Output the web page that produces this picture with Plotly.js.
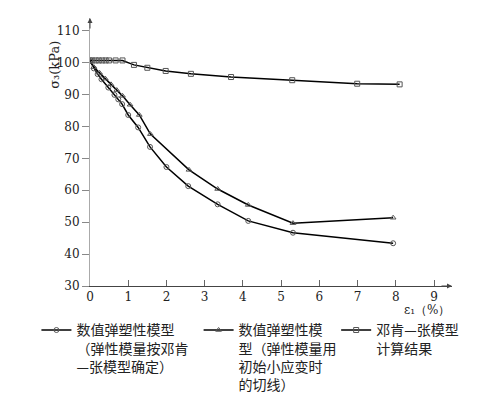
<!DOCTYPE html>
<html><head><meta charset="utf-8">
<script src="https://cdn.plot.ly/plotly-3.0.1.min.js"></script>
<style>html,body{margin:0;padding:0;background:#fff}#c{width:497px;height:397px}</style>
</head><body><div id="c"></div>
<script>
// Series 1: 数值弹塑性模型（弹性模量按邓肯—张模型确定）
const x1 = [0, 0.1, 0.2, 0.3, 0.48, 0.64, 0.74, 0.84, 1.0, 1.26, 1.57, 2.0, 2.57, 3.34, 4.14, 5.31, 7.93];
const y1 = [100.5, 98.2, 96.4, 94.8, 92.2, 89.9, 88.5, 87.0, 83.6, 79.7, 73.6, 67.3, 61.3, 55.6, 50.4, 46.7, 43.4];
// Series 2: 数值弹塑性模型（弹性模量用初始小应变时的切线）
const x2 = [0, 0.1, 0.25, 0.4, 0.55, 0.7, 0.85, 1.05, 1.29, 1.58, 2.59, 3.34, 4.14, 5.31, 7.93];
const y2 = [100.5, 98.6, 96.8, 95.0, 93.2, 91.4, 89.6, 86.8, 83.6, 77.6, 66.4, 60.4, 55.4, 49.7, 51.4];
// Series 3: 邓肯—张模型计算结果
const x3 = [0, 0.06, 0.15, 0.23, 0.32, 0.41, 0.5, 0.67, 0.85, 1.15, 1.5, 1.98, 2.64, 3.69, 5.29, 6.99, 8.1];
const y3 = [100.7, 100.7, 100.7, 100.7, 100.7, 100.7, 100.7, 100.7, 100.7, 99.3, 98.4, 97.4, 96.5, 95.5, 94.5, 93.4, 93.2];
const names = [
  "数值弹塑性模型<br>（弹性模量按邓肯<br>—张模型确定）",
  "数值弹塑性模<br>型（弹性模量用<br>初始小应变时<br>的切线）",
  "邓肯—张模型<br>计算结果"
];
const xTicks = [0,1,2,3,4,5,6,7,8,9];
const yTicks = [30,40,50,60,70,80,90,100,110];

const line = {color:'#000', width:1.5};
const traces = [
  {x:x1, y:y1, name:names[0], mode:'lines+markers', line:line, legend:'legend',
   marker:{symbol:'circle-open', size:5, color:'#555', line:{width:1}}},
  {x:x2, y:y2, name:names[1], mode:'lines+markers', line:line, legend:'legend2',
   marker:{symbol:'triangle-up-open', size:5, color:'#555', line:{width:1}}},
  {x:x3, y:y3, name:names[2], mode:'lines+markers', line:line, legend:'legend3',
   marker:{symbol:'square-open', size:5, color:'#555', line:{width:1}}}
];
const serif = (s) => ({family:'DejaVu Serif', size:s || 12, color:'#222'});
const cjk = () => ({family:'Noto Sans CJK SC', size:14, color:'#222'});
const lg = (x) => ({x:x, y:-0.106, xanchor:'left', yanchor:'top', font:cjk(), bgcolor:'rgba(0,0,0,0)',
  itemwidth:30, tracegroupgap:0, valign:'top'});
const layout = {
  width:497, height:397,
  margin:{l:90, r:45, t:18, b:111, autoexpand:false},
  paper_bgcolor:'#fff', plot_bgcolor:'#fff',
  font:serif(),
  showlegend:true,
  legend:lg(-0.148), legend2:lg(0.30), legend3:lg(0.68),
  xaxis:{range:[0,9.47], tickvals:xTicks, ticktext:xTicks.map(String), ticks:'inside', ticklen:6,
    tickcolor:'#666', showline:true, linecolor:'#444', linewidth:1, showgrid:false, zeroline:false,
    tickfont:serif(12), automargin:false},
  yaxis:{range:[30,114], tickvals:yTicks, ticktext:yTicks.map(String), ticks:'outside', ticklen:7,
    tickcolor:'#888', showline:true, linecolor:'#aaa', linewidth:1, showgrid:false, zeroline:false,
    tickfont:serif(12), automargin:false},
  annotations:[
    {xref:'paper', yref:'paper', x:-0.097, y:0.825, xanchor:'center', yanchor:'middle',
     text:'σ₃(kPa)', textangle:-90, showarrow:false, font:serif(13)},
    {xref:'paper', yref:'paper', x:0.932, y:-0.088, xanchor:'center', yanchor:'middle',
     text:'ε₁（%）', showarrow:false, font:serif(12)},
    {xref:'x', yref:'y', x:9.47, y:30, ax:-12, ay:0, text:'', showarrow:true, arrowhead:2, arrowsize:1,
     arrowwidth:1, arrowcolor:'#444'},
    {xref:'x', yref:'y', x:0, y:114, ax:0, ay:12, text:'', showarrow:true, arrowhead:2, arrowsize:1,
     arrowwidth:1, arrowcolor:'#444'}
  ]
};
Plotly.newPlot('c', traces, layout, {displayModeBar:false, staticPlot:true});
</script></body></html>
